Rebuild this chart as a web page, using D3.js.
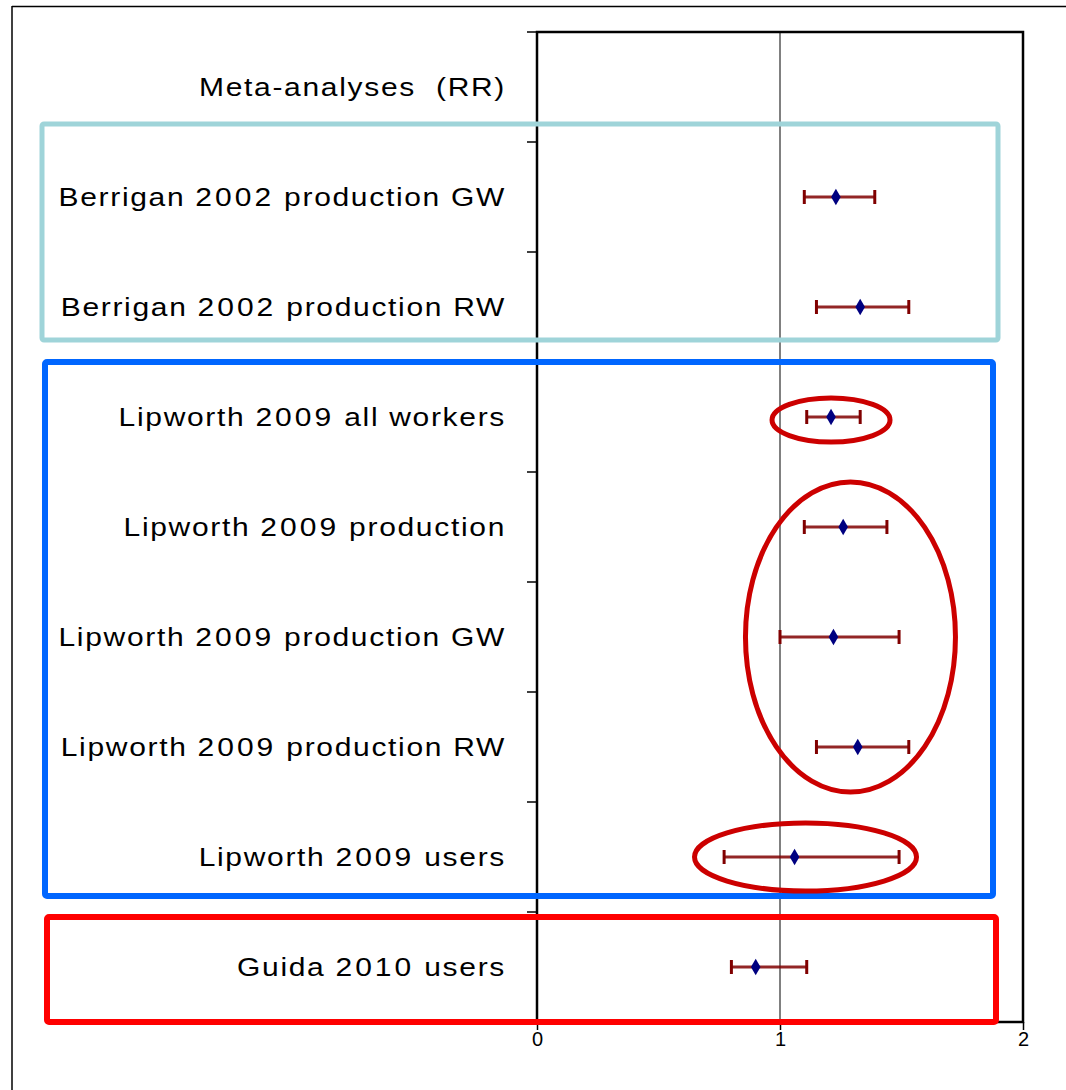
<!DOCTYPE html>
<html>
<head>
<meta charset="utf-8">
<script src="https://cdn.jsdelivr.net/npm/d3@7"></script>
<style>
  body { margin: 0; background: #fff; }
  svg { display: block; }
  .label { font-family: "Liberation Sans", Arial, sans-serif; font-size: 25px; letter-spacing: 1.4px; fill: #000; white-space: pre; }
  .label .num { letter-spacing: 2.5px; }
  .tick text { font-family: "Liberation Sans", Arial, sans-serif; font-size: 20px; }
</style>
</head>
<body>
<svg id="chart" width="1066" height="1090"></svg>
<script>
// rows, top to bottom (first one is only a heading)
let studies = ["Meta-analyses  (RR)",
               "Berrigan 2002 production GW",
               "Berrigan 2002 production RW",
               "Lipworth 2009 all workers",
               "Lipworth 2009 production",
               "Lipworth 2009 production GW",
               "Lipworth 2009 production RW",
               "Lipworth 2009 users",
               "Guida 2010 users"];
let rr    = [null, 1.23, 1.33, 1.21, 1.26, 1.22, 1.32, 1.06, 0.90];
let lower = [null, 1.10, 1.15, 1.11, 1.10, 1.00, 1.15, 0.77, 0.80];
let upper = [null, 1.39, 1.53, 1.33, 1.44, 1.49, 1.53, 1.49, 1.11];
let xTicks = [0, 1, 2];

// highlight frames: first / last row covered, colour
let groups = [
    {first: 1, last: 2, color: "#9fd4d9", width: 5, x0: 42, x1: 998, pad: [-18, 22]},
    {first: 3, last: 7, color: "#0066ff", width: 6, x0: 45, x1: 993, pad: [0, 16]},
    {first: 8, last: 8, color: "#ff0000", width: 6, x0: 47, x1: 996, pad: [5, 0]}
];
// ellipses round single results (by row range)
let circled = [
    {first: 3, last: 3, cx: 1.21, rx: 59, ry: 22, dy: 3},
    {first: 4, last: 6, cx: 1.29, rx: 105, ry: 155, dy: 0},
    {first: 7, last: 7, cx: 1.105, rx: 111, ry: 34, dy: 0}
];

let svg = d3.select("#chart");
let plotL = 537, plotR = 1023, plotT = 32, plotB = 1022;

let x = d3.scaleLinear().domain([0, 2]).range([plotL, plotR]);
let y = d3.scaleBand().domain(d3.range(studies.length)).range([plotT, plotB]).padding(0);
let mid = function(i){ return y(i) + y.bandwidth() / 2; };

// outer frame pieces
svg.append("line").attr("x1", 12).attr("x2", 1066).attr("y1", 6.5).attr("y2", 6.5)
   .attr("stroke", "#000").attr("stroke-width", 1.5);
svg.append("line").attr("x1", 12).attr("x2", 12).attr("y1", 6).attr("y2", 1090)
   .attr("stroke", "#000").attr("stroke-width", 1.5);

// reference line at RR = 1
svg.append("line")
   .attr("x1", x(1)).attr("x2", x(1)).attr("y1", plotT - 1).attr("y2", plotB)
   .attr("stroke", "#808080").attr("stroke-width", 2);

// plot frame
svg.append("rect")
   .attr("x", plotL).attr("y", plotT).attr("width", plotR - plotL).attr("height", plotB - plotT)
   .attr("fill", "none").attr("stroke", "#000").attr("stroke-width", 2.5);

// left ticks at band edges
let edges = d3.range(studies.length + 1).map(function(i){ return plotT + i * y.bandwidth(); });
svg.append("g").selectAll("line").data(edges).enter().append("line")
   .attr("x1", plotL - 10).attr("x2", plotL).attr("y1", function(d){ return d; }).attr("y2", function(d){ return d; })
   .attr("stroke", "#000").attr("stroke-width", 1.5);

// bottom axis
let xAxis = d3.axisBottom(x).tickValues(xTicks).tickSize(8).tickPadding(2).tickFormat(d3.format("d"));
let ax = svg.append("g").attr("transform", "translate(0," + plotB + ")").call(xAxis);
ax.select(".domain").remove();
ax.selectAll(".tick line").attr("stroke", "#000").attr("stroke-width", 1.5);
ax.selectAll(".tick text").attr("fill", "#000");

// labels (stretched a little sideways like the original)
let labels = svg.append("g").selectAll("text").data(studies).enter().append("text")
   .attr("class", "label")
   .attr("transform", function(d, i){ return "translate(506," + mid(i) + ") scale(1.2,1)"; })
   .attr("dy", "0.36em").attr("text-anchor", "end");
labels.selectAll("tspan")
   .data(function(d){ return d.split(/(\d+)/).filter(function(s){ return s.length; }); })
   .enter().append("tspan")
   .attr("class", function(s){ return /^\d+$/.test(s) ? "num" : null; })
   .text(function(s){ return s; });

// group frames
svg.append("g").selectAll("rect").data(groups).enter().append("rect")
   .attr("x", function(d){ return d.x0; })
   .attr("y", function(d){ return y(d.first) + d.pad[0]; })
   .attr("width", function(d){ return d.x1 - d.x0; })
   .attr("height", function(d){ return y(d.last) + y.bandwidth() - y(d.first) - d.pad[0] - d.pad[1]; })
   .attr("rx", 2)
   .attr("fill", "none").attr("stroke", function(d){ return d.color; })
   .attr("stroke-width", function(d){ return d.width; });

// error bars
let rows = d3.range(studies.length).filter(function(i){ return rr[i] !== null; });
let bars = svg.append("g").selectAll("g").data(rows).enter().append("g");
bars.append("line")
   .attr("x1", function(i){ return x(lower[i]); }).attr("x2", function(i){ return x(upper[i]); })
   .attr("y1", mid).attr("y2", mid)
   .attr("stroke", "#800000").attr("stroke-width", 3).attr("stroke-opacity", 0.85);
bars.selectAll(".cap").data(function(i){ return [[lower[i], i], [upper[i], i]]; }).enter().append("line")
   .attr("x1", function(d){ return x(d[0]); }).attr("x2", function(d){ return x(d[0]); })
   .attr("y1", function(d){ return mid(d[1]) - 7; }).attr("y2", function(d){ return mid(d[1]) + 7; })
   .attr("stroke", "#800000").attr("stroke-width", 3);
bars.append("path")
   .attr("d", d3.symbol().type(d3.symbolDiamond).size(80))
   .attr("transform", function(i){ return "translate(" + x(rr[i]) + "," + mid(i) + ")"; })
   .attr("fill", "#000080");

// red ellipses
svg.append("g").selectAll("ellipse").data(circled).enter().append("ellipse")
   .attr("cx", function(d){ return x(d.cx); })
   .attr("cy", function(d){ return (mid(d.first) + mid(d.last)) / 2 + d.dy; })
   .attr("rx", function(d){ return d.rx; }).attr("ry", function(d){ return d.ry; })
   .attr("fill", "none").attr("stroke", "#cc0000").attr("stroke-width", 5);
</script>
</body>
</html>
